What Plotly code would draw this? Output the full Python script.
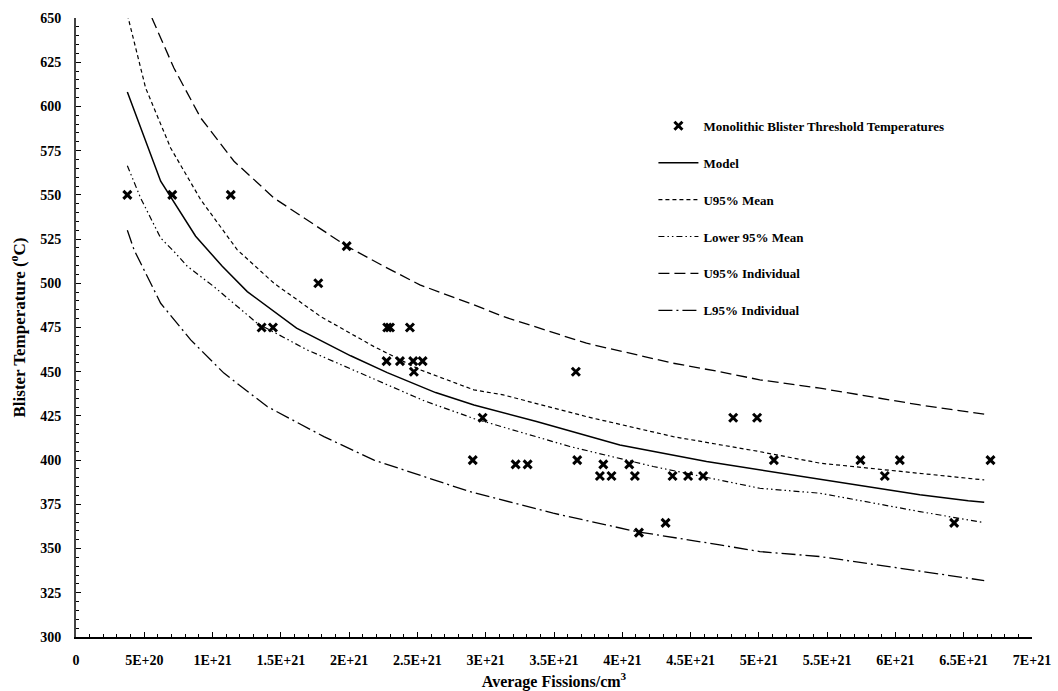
import plotly.graph_objects as go

# ---- data (fissions/cm3, degC) ----
pts_x = [0.376e21, 0.705e21, 1.133e21, 1.982e21, 1.774e21,
         1.359e21, 1.442e21, 2.279e21, 2.299e21, 2.445e21,
         2.274e21, 2.372e21, 2.469e21, 2.538e21,
         2.474e21, 3.660e21,
         2.977e21, 4.812e21, 4.987e21,
         2.905e21, 3.670e21, 5.110e21, 5.744e21, 6.032e21, 6.696e21,
         3.219e21, 3.307e21, 3.861e21, 4.051e21,
         3.836e21, 3.921e21, 4.092e21, 4.368e21, 4.482e21, 4.592e21, 5.922e21,
         4.317e21, 6.430e21, 4.122e21]
pts_y = [550, 550, 550, 521, 500,
         475, 475, 475, 475, 475,
         456, 456, 456, 456,
         450, 450,
         424, 424, 424,
         400, 400, 400, 400, 400, 400,
         397.6, 397.6, 397.6, 397.6,
         391, 391, 391, 391, 391, 391, 391,
         364.5, 364.5, 359]

model_x = [0.376e21, 0.62e21, 0.876e21, 1.071e21, 1.254e21, 1.615e21, 2.011e21, 2.279e21,
           2.633e21, 2.914e21, 3.372e21, 3.982e21, 4.617e21, 5.007e21, 5.764e21, 6.179e21,
           6.533e21, 6.65e21]
model_y = [608.2, 557.7, 526.6, 509.6, 495.3, 474.6, 459.0, 449.5,
           438.2, 431.2, 421.8, 408.6, 399.2, 394.5, 385.0, 380.4,
           377.0, 376.2]

u95m_x = [0.376e21, 0.510e21, 0.693e21, 0.913e21, 1.181e21, 1.45e21, 1.791e21, 2.182e21,
          2.523e21, 2.914e21, 3.128e21, 3.738e21, 4.373e21, 5.007e21, 5.447e21, 6.179e21, 6.65e21]
u95m_y = [652, 610.4, 576.5, 547.3, 518.9, 500.0, 481.2, 464.2,
          451.0, 439.7, 436.9, 424.6, 413.3, 404.8, 398.3, 392.6, 388.8]

l95m_x = [0.376e21, 0.473e21, 0.620e21, 0.717e21, 0.815e21, 1.010e21, 1.327e21, 1.693e21,
          2.059e21, 2.548e21, 2.914e21, 3.616e21, 4.226e21, 4.641e21, 5.007e21, 5.447e21,
          6.179e21, 6.65e21]
l95m_y = [566.5, 548.2, 525.6, 518.0, 509.6, 498.1, 477.4, 462.3,
          450.0, 433.6, 423.5, 407.7, 396.4, 389.8, 384.1, 381.3,
          370.9, 364.7]

u95i_x = [0.556e21, 0.717e21, 0.913e21, 1.157e21, 1.45e21, 1.815e21, 1.982e21, 2.255e21,
          2.518e21, 2.914e21, 3.128e21, 3.738e21, 4.373e21, 4.714e21, 5.007e21, 5.447e21,
          6.179e21, 6.65e21]
u95i_y = [650, 621.7, 593.5, 569.0, 548.2, 529.4, 521.0, 509.6,
          499.1, 487.8, 481.2, 466.1, 454.8, 450.0, 445.4, 440.7,
          431.2, 426.0]

l95i_x = [0.376e21, 0.425e21, 0.485e21, 0.620e21, 0.840e21, 1.083e21, 1.400e21, 1.815e21,
          2.182e21, 2.548e21, 2.884e21, 3.494e21, 4.104e21, 4.714e21, 5.007e21, 5.447e21,
          6.179e21, 6.65e21]
l95i_y = [530.0, 518.9, 509.6, 488.7, 468.0, 449.2, 430.3, 413.3,
          400.0, 390.7, 382.2, 370.0, 359.6, 352.1, 348.3, 345.5,
          337.0, 331.9]

x_tickvals = [0, 5e20, 1e21, 1.5e21, 2e21, 2.5e21, 3e21, 3.5e21, 4e21, 4.5e21,
              5e21, 5.5e21, 6e21, 6.5e21, 7e21]
x_ticktext = ["0", "5E+20", "1E+21", "1.5E+21", "2E+21", "2.5E+21", "3E+21", "3.5E+21",
              "4E+21", "4.5E+21", "5E+21", "5.5E+21", "6E+21", "6.5E+21", "7E+21"]

FONT = "'Times New Roman', 'Liberation Serif', Tinos, 'DejaVu Serif', serif"

fig = go.Figure()
fig.add_trace(go.Scatter(x=pts_x, y=pts_y, mode="markers",
                         name="<b>Monolithic Blister Threshold Temperatures</b>",
                         legendgroup="a",
                         marker=dict(symbol="x-thin", size=8, color="black",
                                     line=dict(color="black", width=3))))
lines = [
    (model_x, model_y, "<b>Model</b>", "solid", 1.5, "b"),
    (u95m_x, u95m_y, "<b>U95% Mean</b>", "4px,3px", 1.2, "c"),
    (l95m_x, l95m_y, "<b>Lower 95% Mean</b>", "6px,3px,1.5px,3px,1.5px,3px", 1.2, "d"),
    (u95i_x, u95i_y, "<b>U95% Individual</b>", "11px,5px", 1.3, "e"),
    (l95i_x, l95i_y, "<b>L95% Individual</b>", "14px,4px,2px,4px", 1.3, "f"),
]
for xs, ys, nm, dash, w, g in lines:
    fig.add_trace(go.Scatter(x=xs, y=ys, mode="lines", name=nm, legendgroup=g,
                             line=dict(color="black", width=w, dash=dash)))

fig.update_layout(
    width=1058, height=691,
    margin=dict(l=76, r=26, t=18, b=54),
    paper_bgcolor="white", plot_bgcolor="white",
    font=dict(family=FONT, color="black", size=14),
    showlegend=True,
    legend=dict(x=0.604, y=0.85, xanchor="left", yanchor="top",
                bgcolor="rgba(0,0,0,0)",
                font=dict(size=13, family=FONT, color="black"),
                tracegroupgap=17, itemwidth=40),
    xaxis=dict(range=[0, 7e21], tickmode="array", tickvals=x_tickvals,
               ticktext=["<b>" + t + "</b>" for t in x_ticktext],
               automargin=False,
               showgrid=False, zeroline=False, showline=True, linecolor="black", linewidth=1.5,
               ticks="inside", ticklen=5, tickwidth=1.2, tickcolor="black",
               ticklabelstandoff=9,
               tickfont=dict(size=14, family=FONT, color="black"),
               minor=dict(tickmode="linear", tick0=0, dtick=1e20, ticks="inside",
                          ticklen=3, tickwidth=1, tickcolor="black", showgrid=False),
               title=dict(text="<b>Average Fissions/cm<sup>3</sup></b>",
                          font=dict(size=16, family=FONT, color="black"),
                          standoff=9)),
    yaxis=dict(range=[300, 650], tickmode="linear", tick0=300, dtick=25,
               tickprefix="<b>", ticksuffix="</b>",
               automargin=False,
               showgrid=False, zeroline=False, showline=True, linecolor="#444", linewidth=2,
               ticks="inside", ticklen=5, tickwidth=1.2, tickcolor="black",
               ticklabelstandoff=10,
               tickfont=dict(size=14, family=FONT, color="black"),
               minor=dict(tickmode="linear", tick0=300, dtick=5, ticks="inside",
                          ticklen=3, tickwidth=1, tickcolor="black", showgrid=False),
               title=dict(text="<b>Blister Temperature (<sup>o</sup>C)</b>",
                          font=dict(size=17, family=FONT, color="black"),
                          standoff=10)),
)

fig.write_html("out.html")
